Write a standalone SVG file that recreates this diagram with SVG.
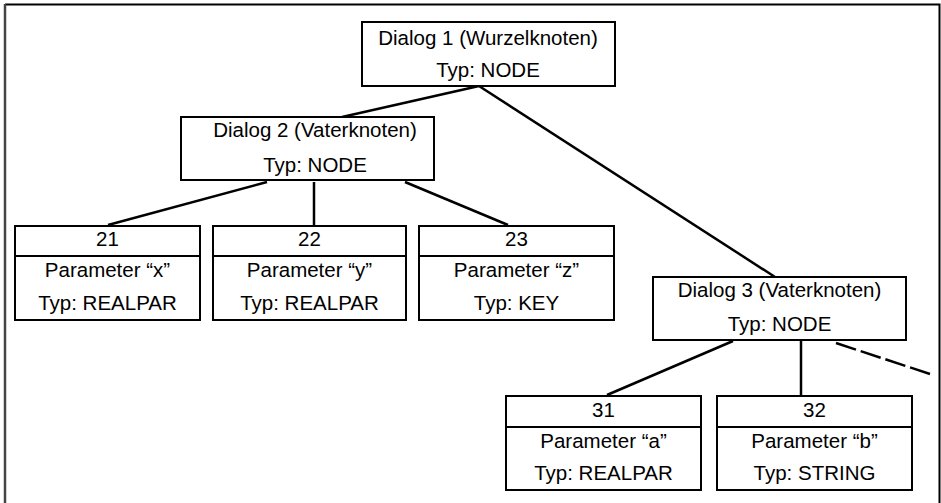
<svg xmlns="http://www.w3.org/2000/svg" width="941" height="503" viewBox="0 0 941 503">
  <style>
    .box { fill: #fff; stroke: #000; stroke-width: 2; }
    .div { stroke: #000; stroke-width: 2; }
    .lbl { font-family: "Liberation Sans", Arial, sans-serif; font-size: 20.5px; fill: #000; text-anchor: middle; }
    .edge { stroke: #000; stroke-width: 2.5; fill: none; }
    .dash { stroke-dasharray: 21 5; }
    .frame { stroke: #000; stroke-width: 2; fill: none; }
    .frame-left { stroke: #444; stroke-width: 2.5; fill: none; }
  </style>

  <rect width="941" height="503" fill="#fff"/>
  <!-- open frame: top, left and right edges -->
  <path class="frame" d="M5,4.5 H939.5 V503"/>
  <path class="frame-left" d="M5,503 V4"/>

  <g id="connectors">
    <line class="edge" x1="479" y1="86" x2="342" y2="117"/>
    <line class="edge" x1="479" y1="86" x2="775" y2="277"/>
    <line class="edge" x1="267" y1="182" x2="108" y2="225"/>
    <line class="edge" x1="314" y1="182" x2="314" y2="225"/>
    <line class="edge" x1="405" y1="182" x2="508" y2="225"/>
    <line class="edge" x1="733" y1="341" x2="607" y2="395"/>
    <line class="edge" x1="801" y1="341" x2="801" y2="395"/>
    <line class="edge dash" x1="836" y1="343" x2="930" y2="374"/>
  </g>

  <g id="dialog1">
    <rect class="box" x="362" y="22" width="253" height="64"/>
    <text class="lbl" x="488" y="45">Dialog 1 (Wurzelknoten)</text>
    <text class="lbl" x="488" y="77">Typ: NODE</text>
  </g>

  <g id="dialog2">
    <rect class="box" x="181" y="117" width="253" height="63"/>
    <text class="lbl" x="315" y="137">Dialog 2 (Vaterknoten)</text>
    <text class="lbl" x="315" y="172">Typ: NODE</text>
  </g>

  <g id="dialog3">
    <rect class="box" x="653" y="277" width="253" height="63"/>
    <text class="lbl" x="779.5" y="297">Dialog 3 (Vaterknoten)</text>
    <text class="lbl" x="779.5" y="331">Typ: NODE</text>
  </g>

  <g id="param21">
    <rect class="box" x="15" y="226" width="185" height="94"/>
    <line class="div" x1="15" y1="256" x2="200" y2="256"/>
    <text class="lbl" x="107.5" y="246">21</text>
    <text class="lbl" x="107.5" y="277">Parameter “x”</text>
    <text class="lbl" x="107.5" y="310">Typ: REALPAR</text>
  </g>

  <g id="param22">
    <rect class="box" x="213" y="226" width="193" height="94"/>
    <line class="div" x1="213" y1="256" x2="406" y2="256"/>
    <text class="lbl" x="309.5" y="246">22</text>
    <text class="lbl" x="309.5" y="277">Parameter “y”</text>
    <text class="lbl" x="309.5" y="310">Typ: REALPAR</text>
  </g>

  <g id="param23">
    <rect class="box" x="419" y="226" width="195" height="94"/>
    <line class="div" x1="419" y1="256" x2="614" y2="256"/>
    <text class="lbl" x="516.5" y="246">23</text>
    <text class="lbl" x="516.5" y="277">Parameter “z”</text>
    <text class="lbl" x="516.5" y="310">Typ: KEY</text>
  </g>

  <g id="param31">
    <rect class="box" x="506" y="396" width="195" height="94"/>
    <line class="div" x1="506" y1="427" x2="701" y2="427"/>
    <text class="lbl" x="603.5" y="417">31</text>
    <text class="lbl" x="603.5" y="448">Parameter “a”</text>
    <text class="lbl" x="603.5" y="480">Typ: REALPAR</text>
  </g>

  <g id="param32">
    <rect class="box" x="717" y="396" width="195" height="94"/>
    <line class="div" x1="717" y1="427" x2="912" y2="427"/>
    <text class="lbl" x="814.5" y="417">32</text>
    <text class="lbl" x="814.5" y="448">Parameter “b”</text>
    <text class="lbl" x="814.5" y="480">Typ: STRING</text>
  </g>
</svg>
